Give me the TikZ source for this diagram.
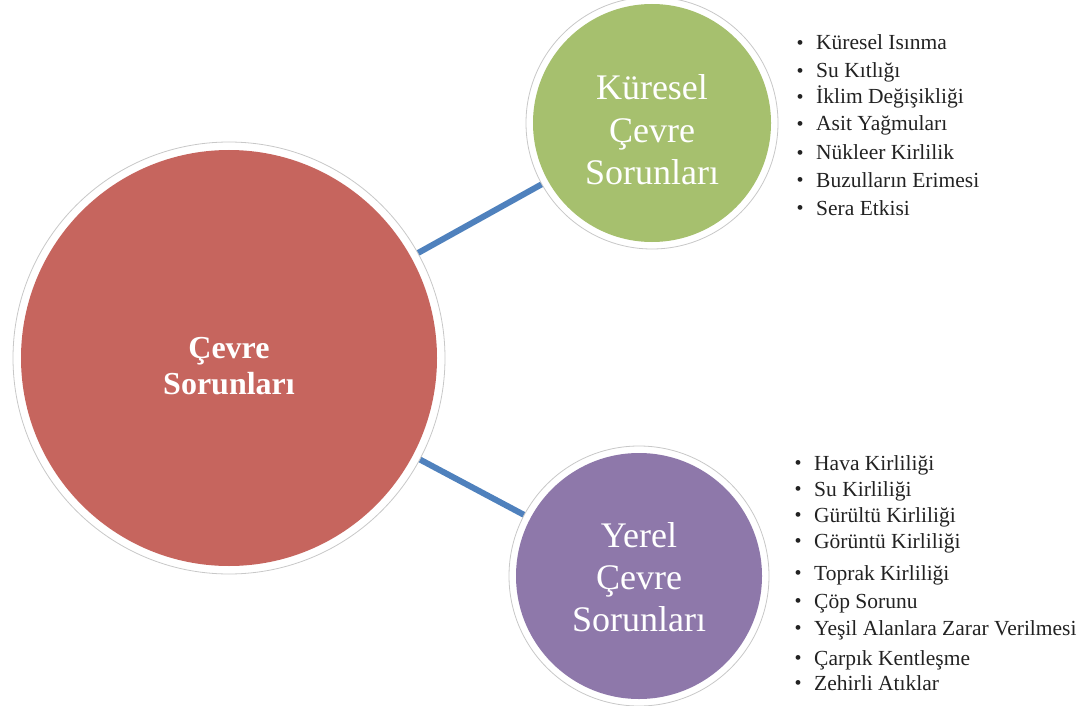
\documentclass[tikz,border=0pt]{standalone}
\usepackage{fontspec}
\setmainfont{Liberation Serif}
\usetikzlibrary{backgrounds}
\definecolor{cred}{HTML}{C6655E}
\definecolor{cgreen}{HTML}{A6C06E}
\definecolor{cpurple}{HTML}{8E78AA}
\definecolor{cblue}{HTML}{4F81BD}
\definecolor{cring}{HTML}{C8C8C8}
\definecolor{ctext}{HTML}{222222}
\tikzset{
  ring/.style={circle, draw=cring, line width=0.8pt, fill=white, inner sep=0pt, minimum size=#1},
  disc/.style={circle, fill=#1, inner sep=0pt},
  label text/.style={align=center, text=white, inner sep=0pt},
  link/.style={draw=cblue, line width=6pt},
  item/.style={anchor=west, inner sep=0pt, text=ctext, font=\fontsize{21.5}{22}\selectfont, text height=14pt, text depth=4pt},
  dot/.style={inner sep=0pt, text=ctext, font=\fontsize{20}{20}\selectfont}
}
\begin{document}
\begin{tikzpicture}[x=1pt,y=1pt]
\useasboundingbox (0,0) rectangle (1084,-706);
% outer rings
\node[ring=432pt] (bigR) at (229,-358) {};
\node[ring=252pt] (gR) at (652,-123) {};
\node[ring=260pt] (pR) at (639,-576) {};
% inner discs
\node[disc=cred, minimum size=416pt] (big) at (229,-358) {};
\node[disc=cgreen, minimum size=238pt] (g) at (652,-123) {};
\node[disc=cpurple, minimum size=246pt] (p) at (639,-576) {};
% disc texts
\node[label text, font=\bfseries\fontsize{32}{36}\selectfont] (bigT) at (229,-366) {Çevre\\Sorunları};
\node[label text, font=\fontsize{36}{42.5}\selectfont] (gT) at (652,-130) {Küresel\\Çevre\\Sorunları};
\node[label text, font=\fontsize{36}{42}\selectfont] (pT) at (639,-577) {Yerel\\Çevre\\Sorunları};
\begin{scope}[on background layer]
\draw[link] (bigR.center) -- (gR.center);
\draw[link] (bigR.center) -- (pR.center);
\end{scope}
% top list
\foreach \t/\y [count=\i] in {Küresel Isınma/45, Su Kıtlığı/73, İklim Değişikliği/99, Asit Yağmuları/126, Nükleer Kirlilik/155, Buzulların Erimesi/182, Sera Etkisi/210}{
  \node[dot] (tb\i) at (800,-\y) {•};
  \node[item] (tt\i) at (816,-\y) {\t};
}
% bottom list
\foreach \t/\y [count=\i] in {Hava Kirliliği/465, Su Kirliliği/491, Gürültü Kirliliği/517, Görüntü Kirliliği/543, Toprak Kirliliği/575, Çöp Sorunu/603, Yeşil Alanlara Zarar Verilmesi/630, Çarpık Kentleşme/660, Zehirli Atıklar/685}{
  \node[dot] (bb\i) at (798,-\y) {•};
  \node[item] (bt\i) at (814,-\y) {\t};
}
\end{tikzpicture}
\end{document}
